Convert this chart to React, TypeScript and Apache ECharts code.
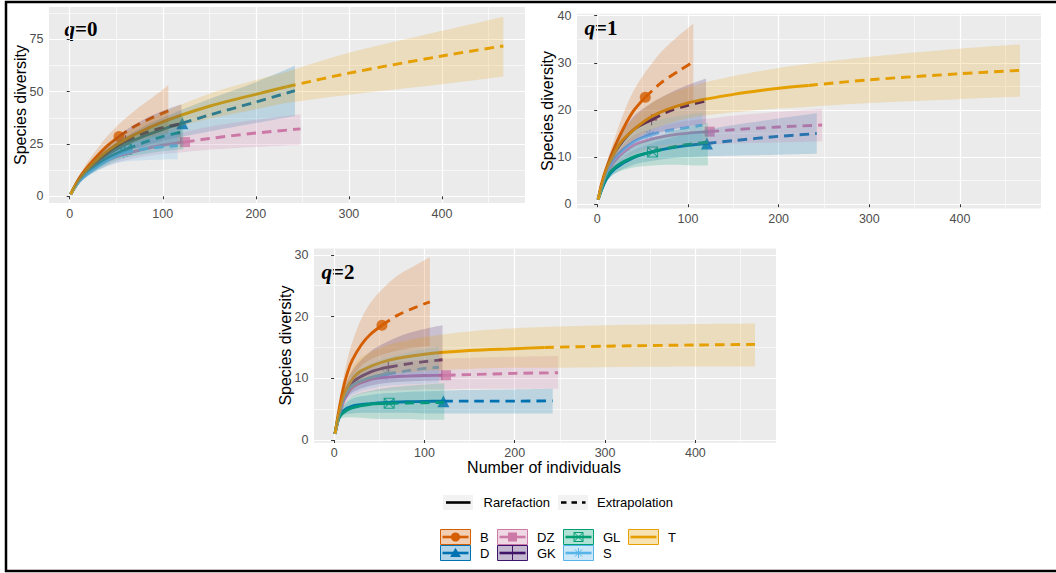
import React, { useEffect, useRef } from "react";
import * as echarts from "echarts";

// ---------------- data ----------------
const GROUPS = ["B", "D", "DZ", "GK", "GL", "S", "T"];
const SAMPLE_SIZES = [53, 121, 124, 60, 61, 58, 233];
const X_TICKS = [0, 100, 200, 300, 400];
const X_MINOR = [50, 150, 250, 350, 450];
const Y_TICKS_Q0 = [0, 25, 50, 75];
const Y_MINOR_Q0 = [12.5, 37.5, 62.5, 87.5];
const Y_TICKS_Q1 = [0, 10, 20, 30, 40];
const Y_MINOR_Q1 = [5, 15, 25, 35];
const Y_TICKS_Q2 = [0, 10, 20, 30];
const Y_MINOR_Q2 = [5, 15, 25];
const LINE_TYPES = ["Rarefaction", "Extrapolation"];

// rows: [number of individuals, estimate, lower CI, upper CI]
const B_q0 = [[1, 1, 1, 1], [10, 8.5, 7.2, 9.8], [20, 14.5, 12, 17], [30, 19.5, 15.8, 23], [40, 24, 19, 28.5], [53, 28.5, 22.5, 34.5], [70, 33.5, 25.5, 41], [90, 37.8, 28, 47.5], [106, 40.8, 29.5, 53]];
const D_q0 = [[1, 1, 1, 1], [10, 7.5, 6.6, 8.4], [20, 12.5, 11, 14], [40, 19.8, 17, 22.5], [60, 24.8, 21, 28.5], [80, 28.8, 24, 33.5], [100, 32, 26.5, 37.5], [121, 34.9, 28.5, 41.5], [150, 38.8, 31, 46.5], [200, 45, 35, 54.5], [242, 50.5, 38.4, 62.3]];
const DZ_q0 = [[1, 1, 1, 1], [10, 7, 6.2, 7.8], [20, 11.5, 10, 13], [40, 17, 14.5, 19.5], [60, 20.2, 17.2, 23.2], [80, 22.6, 19, 26.2], [100, 24.4, 20.2, 28.6], [124, 25.9, 21.2, 30.8], [150, 27.6, 22.2, 33.2], [200, 30.2, 23.5, 36.5], [248, 32.2, 24.5, 39.2]];
const GK_q0 = [[1, 1, 1, 1], [10, 8, 7, 9], [20, 13.2, 11.5, 15], [40, 20.8, 17.5, 24], [60, 26.5, 21.5, 31.5], [80, 30.2, 23.5, 36.8], [100, 32.8, 25, 40.8], [120, 34.6, 26, 44]];
const GL_q0 = [[1, 1, 1, 1], [10, 7.2, 6.3, 8.1], [20, 11.7, 10, 13.5], [40, 18, 15, 21.2], [61, 22.5, 18.5, 26.8], [80, 25.7, 20.2, 31], [100, 28.5, 21.5, 35], [122, 30.8, 22.5, 38.5]];
const S_q0 = [[1, 1, 1, 1], [10, 7, 6.2, 7.8], [20, 11, 9.6, 12.6], [40, 17, 14.2, 20], [58, 20.8, 16.5, 25], [80, 22.6, 17.2, 28], [100, 23.6, 17.6, 29.8], [116, 24.2, 17.7, 30.8]];
const T_q0 = [[1, 1, 1, 1], [10, 8, 7.2, 8.8], [20, 13.5, 12, 15], [40, 21.5, 19.2, 24], [60, 27.2, 24, 30.5], [100, 35.5, 31, 40], [150, 43, 37, 49], [200, 48.7, 41.5, 55.5], [233, 52.3, 44.5, 59.5], [300, 58.8, 48.5, 68.5], [400, 67, 53.5, 79], [466, 71.8, 57.2, 85.8]];

const B_q1 = [[1, 1, 1, 1], [5, 4.5, 4, 5], [10, 7.6, 6.6, 8.6], [20, 12.5, 10.6, 14.5], [30, 16.5, 13.5, 19.8], [40, 19.8, 15.6, 24], [53, 22.7, 17.5, 28], [70, 25.7, 19.2, 32.2], [90, 28.3, 20.6, 35.8], [106, 30.2, 21.6, 38.3]];
const D_q1 = [[1, 1, 1, 1], [10, 5.3, 4.7, 5.9], [20, 7.6, 6.6, 8.6], [40, 9.9, 8.4, 11.4], [60, 11.1, 9.2, 12.9], [80, 11.9, 9.7, 14], [100, 12.5, 10, 15], [121, 12.9, 10.2, 15.8], [150, 13.5, 10.3, 16.8], [200, 14.4, 10.5, 18.2], [242, 15, 10.7, 19.3]];
const DZ_q1 = [[1, 1, 1, 1], [10, 6.1, 5.4, 6.8], [20, 9.3, 8.1, 10.6], [40, 12.5, 10.6, 14.5], [60, 13.8, 11.6, 16], [80, 14.6, 12.1, 17], [100, 15.1, 12.5, 17.7], [124, 15.4, 12.7, 18.2], [150, 15.8, 12.9, 18.8], [200, 16.4, 13.1, 19.6], [248, 16.8, 13.3, 20.2]];
const GK_q1 = [[1, 1, 1, 1], [10, 7.2, 6.3, 8.1], [20, 11.2, 9.7, 12.8], [40, 15.8, 13.3, 18.6], [60, 17.9, 14.8, 21.5], [80, 19.8, 15.8, 23.6], [100, 21, 16.5, 25.3], [120, 21.9, 17, 26.7]];
const GL_q1 = [[1, 1, 1, 1], [10, 5.6, 4.9, 6.3], [20, 7.9, 6.6, 9.3], [40, 10, 7.8, 12.3], [61, 11.1, 8.2, 14], [80, 12, 8.4, 15.3], [100, 12.7, 8.3, 16.4], [122, 13.2, 8.2, 17.2]];
const S_q1 = [[1, 1, 1, 1], [10, 6.6, 5.9, 7.3], [20, 10, 8.7, 11.4], [40, 13.2, 11.2, 15.4], [58, 14.7, 12.2, 17.3], [80, 15.7, 12.8, 18.4], [100, 16.3, 13.1, 19], [116, 16.8, 13.3, 19.4]];
const T_q1 = [[1, 1, 1, 1], [10, 7.3, 6.6, 8], [20, 11.3, 10, 12.7], [30, 14, 12.2, 16], [60, 18.6, 15.8, 21.5], [100, 21.5, 18.2, 24.8], [150, 23.3, 19.5, 27.2], [200, 24.6, 20.3, 28.9], [233, 25.2, 20.7, 29.8], [300, 26.4, 21.5, 31.3], [400, 27.7, 22.3, 33], [466, 28.4, 22.8, 33.9]];

const B_q2 = [[1, 1, 1, 1], [5, 4.6, 4, 5.2], [10, 8.3, 7, 9.8], [15, 11, 9, 13.2], [20, 12.9, 10.3, 15.8], [30, 15.4, 12, 19.6], [40, 17.1, 13, 22.2], [53, 18.6, 13.8, 24.4], [70, 20.2, 14.5, 26.6], [90, 21.5, 15, 28.3], [106, 22.4, 15.2, 29.6]];
const D_q2 = [[1, 1, 1, 1], [5, 3.4, 3, 3.8], [10, 4.7, 4, 5.4], [20, 5.5, 4.3, 6.7], [40, 5.9, 4.4, 7.3], [60, 6.1, 4.4, 7.6], [80, 6.2, 4.4, 7.8], [100, 6.25, 4.3, 7.9], [121, 6.3, 4.3, 8], [150, 6.3, 4.3, 8.1], [200, 6.3, 4.3, 8.2], [242, 6.35, 4.3, 8.3]];
const DZ_q2 = [[1, 1, 1, 1], [10, 6, 5.2, 6.8], [20, 8.5, 7, 10.1], [40, 9.8, 7.8, 11.8], [60, 10.2, 8, 12.4], [80, 10.35, 8.1, 12.8], [100, 10.45, 8.2, 13], [124, 10.5, 8.2, 13.2], [150, 10.6, 8.3, 13.3], [200, 10.8, 8.3, 13.5], [248, 10.9, 8.3, 13.6]];
const GK_q2 = [[1, 1, 1, 1], [10, 6.8, 5.9, 7.7], [20, 9.3, 7.7, 11.2], [40, 11, 8.8, 14.3], [60, 11.8, 9.3, 16], [80, 12.3, 9.5, 17.2], [100, 12.7, 9.6, 18], [120, 13, 9.7, 18.6]];
const GL_q2 = [[1, 1, 1, 1], [5, 3.5, 3, 4], [10, 4.4, 3.6, 5.5], [20, 5.2, 3.7, 7.1], [40, 5.8, 3.5, 8], [61, 5.95, 3.4, 8.5], [80, 6, 3.4, 8.8], [100, 6.05, 3.3, 9], [122, 6.1, 3.3, 9.2]];
const S_q2 = [[1, 1, 1, 1], [10, 6.5, 5.7, 7.3], [20, 8.8, 7.3, 10.5], [40, 10.1, 8.3, 12.3], [58, 10.7, 8.8, 13.3], [80, 11.2, 9, 14.1], [100, 11.6, 9.1, 14.7], [116, 11.8, 9.2, 15.1]];
const T_q2 = [[1, 1, 1, 1], [10, 7, 6.2, 7.8], [20, 9.8, 8.2, 11.6], [30, 11.2, 9.2, 13.4], [60, 12.9, 10.6, 15.4], [100, 13.9, 11.2, 16.7], [150, 14.5, 11.5, 17.6], [200, 14.8, 11.7, 18.1], [233, 15, 11.7, 18.3], [300, 15.2, 11.8, 18.6], [400, 15.4, 11.9, 18.8], [466, 15.5, 11.9, 18.9]];

const Q0 = [B_q0, D_q0, DZ_q0, GK_q0, GL_q0, S_q0, T_q0];
const Q1 = [B_q1, D_q1, DZ_q1, GK_q1, GL_q1, S_q1, T_q1];
const Q2 = [B_q2, D_q2, DZ_q2, GK_q2, GL_q2, S_q2, T_q2];

// ---------------- styles / layout ----------------
const COLORS = ["#D55E00", "#0072B2", "#CC79A7", "#3F1468", "#009E73", "#56B4E9", "#E69F00"];
const PLUS = "path://M5,0L5,10M0,5L10,5";
const SQCROSS = "path://M0,0L10,0L10,10L0,10ZM0,0L10,10M10,0L0,10";
const ASTER = "path://M5,0L5,10M0,5L10,5M1.5,1.5L8.5,8.5M8.5,1.5L1.5,8.5";
const SYMBOLS = ["circle", "triangle", "rect", PLUS, SQCROSS, ASTER, "none"];
const SYMBOL_SIZES = [11, 12, 10, 11, 10, 11, 0];
const FILLED = [true, true, true, false, false, false, true];
const SANS = "'Liberation Sans', Arial, Helvetica, sans-serif";
const SERIF = "'Liberation Serif', 'Times New Roman', serif";
const X_RANGE = [-22.25, 489.25];
const SMOOTH = 0.3;

const PANELS = [
  { q: "0", data: Q0, grid: { left: 49, top: 7, width: 476, height: 196 }, y: [-3.2, 90.4], yTicks: Y_TICKS_Q0, yMinor: Y_MINOR_Q0, label: [64.5, 29], title: [20.5, 105] },
  { q: "1", data: Q1, grid: { left: 577, top: 13.8, width: 464, height: 194.7 }, y: [-0.9, 40.4], yTicks: Y_TICKS_Q1, yMinor: Y_MINOR_Q1, label: [584.5, 27.5], title: [547, 111] },
  { q: "2", data: Q2, grid: { left: 314, top: 248.4, width: 462, height: 194.4 }, y: [-0.45, 31.05], yTicks: Y_TICKS_Q2, yMinor: Y_MINOR_Q2, label: [321.5, 272], title: [285.5, 345.6] },
];

function markerEls(gi: number, cx: number, cy: number, col: string): any[] {
  const st = { stroke: col, lineWidth: 1 };
  switch (gi) {
    case 0:
      return [{ type: "circle", shape: { cx, cy, r: 4.6 }, style: { fill: col } }];
    case 1:
      return [{ type: "polygon", shape: { points: [[cx, cy - 5.2], [cx + 5.4, cy + 4], [cx - 5.4, cy + 4]] }, style: { fill: col } }];
    case 2:
      return [{ type: "rect", shape: { x: cx - 4.5, y: cy - 4.5, width: 9, height: 9 }, style: { fill: col } }];
    case 3:
      return [{ type: "line", shape: { x1: cx, y1: cy - 7.5, x2: cx, y2: cy + 7.5 }, style: st }];
    case 4:
      return [
        { type: "rect", shape: { x: cx - 4.5, y: cy - 4.5, width: 9, height: 9 }, style: { fill: "none", ...st } },
        { type: "line", shape: { x1: cx - 4.5, y1: cy - 4.5, x2: cx + 4.5, y2: cy + 4.5 }, style: st },
        { type: "line", shape: { x1: cx + 4.5, y1: cy - 4.5, x2: cx - 4.5, y2: cy + 4.5 }, style: st },
      ];
    case 5:
      return [
        { type: "line", shape: { x1: cx, y1: cy - 5, x2: cx, y2: cy + 5 }, style: st },
        { type: "line", shape: { x1: cx - 3.6, y1: cy - 3.6, x2: cx + 3.6, y2: cy + 3.6 }, style: st },
        { type: "line", shape: { x1: cx + 3.6, y1: cy - 3.6, x2: cx - 3.6, y2: cy + 3.6 }, style: st },
      ];
    default:
      return [];
  }
}

function buildOption() {
  const grids: any[] = [];
  const xAxes: any[] = [];
  const yAxes: any[] = [];
  const series: any[] = [];
  const graphic: any[] = [];

  PANELS.forEach((p, pi) => {
    grids.push({ ...p.grid, show: true, backgroundColor: "#EBEBEB", borderWidth: 0, containLabel: false });
    const labelStyle = { color: "#4D4D4D", fontSize: 12.5, fontFamily: SANS };
    xAxes.push({
      type: "value", gridIndex: pi, min: X_RANGE[0], max: X_RANGE[1],
      axisLine: { show: false },
      axisTick: { show: true, length: 3, customValues: X_TICKS, lineStyle: { color: "#333333", width: 1 } },
      axisLabel: { ...labelStyle, margin: 4, customValues: X_TICKS },
      splitLine: { show: true, lineStyle: { color: "#FFFFFF", width: 1.2 } },
    });
    xAxes.push({
      type: "value", gridIndex: pi, min: X_RANGE[0], max: X_RANGE[1], position: "bottom",
      axisLine: { show: false },
      axisTick: { show: false, customValues: X_MINOR },
      axisLabel: { show: false, customValues: X_MINOR },
      splitLine: { show: true, lineStyle: { color: "#FFFFFF", width: 0.6 } },
    });
    yAxes.push({
      type: "value", gridIndex: pi, min: p.y[0], max: p.y[1],
      axisLine: { show: false },
      axisTick: { show: true, length: 3, customValues: p.yTicks, lineStyle: { color: "#333333", width: 1 } },
      axisLabel: { ...labelStyle, margin: 5.5, customValues: p.yTicks },
      splitLine: { show: true, lineStyle: { color: "#FFFFFF", width: 1.2 } },
    });
    yAxes.push({
      type: "value", gridIndex: pi, min: p.y[0], max: p.y[1], position: "left",
      axisLine: { show: false },
      axisTick: { show: false, customValues: p.yMinor },
      axisLabel: { show: false, customValues: p.yMinor },
      splitLine: { show: true, lineStyle: { color: "#FFFFFF", width: 0.6 } },
    });

    const xi = pi * 2;
    p.data.forEach((rows, gi) => {
      const col = COLORS[gi];
      const n = SAMPLE_SIZES[gi];
      const rare = rows.filter((r) => r[0] <= n).map((r) => [r[0], r[1]]);
      const ext = rows.filter((r) => r[0] >= n).map((r) => [r[0], r[1]]);
      const obs = rows.find((r) => r[0] === n);
      const common = { xAxisIndex: xi, yAxisIndex: xi, silent: true, animation: false, symbol: "none", showSymbol: false };
      if (obs && SYMBOLS[gi] !== "none") {
        series.push({
          ...common, type: "scatter", symbol: SYMBOLS[gi], symbolSize: SYMBOL_SIZES[gi], z: 2,
          data: [[obs[0], obs[1]]],
          itemStyle: FILLED[gi] ? { color: col } : { color: "rgba(0,0,0,0)", borderColor: col, borderWidth: 1.1 },
        });
      }
      series.push({ ...common, type: "line", data: rare, smooth: SMOOTH, z: 3, lineStyle: { color: col, width: 2.9 } });
      series.push({ ...common, type: "line", data: ext, smooth: SMOOTH, z: 3, lineStyle: { color: col, width: 2.9, type: [9.5, 6] } });
      // confidence band: lower bound + (upper - lower), stacked on the y dimension (first column)
      const stack = `band_${pi}_${gi}`;
      series.push({
        ...common, type: "line", stack, encode: { x: 1, y: 0 },
        data: rows.map((r) => [r[2], r[0]]), smooth: SMOOTH, z: 4, lineStyle: { width: 0, opacity: 0 },
      });
      series.push({
        ...common, type: "line", stack, encode: { x: 1, y: 0 },
        data: rows.map((r) => [r[3] - r[2], r[0]]), smooth: SMOOTH, z: 4, lineStyle: { width: 0, opacity: 0 },
        areaStyle: { color: col, opacity: 0.2 },
      });
    });

    graphic.push({
      type: "text", x: p.label[0], y: p.label[1],
      style: {
        text: `{a|q}{b|=${p.q}}`, verticalAlign: "middle", align: "left",
        rich: {
          a: { fontFamily: SERIF, fontSize: 21, fontWeight: "bold", fontStyle: "italic", fill: "#000" },
          b: { fontFamily: SERIF, fontSize: 21, fontWeight: "bold", fill: "#000" },
        },
      },
    });
    graphic.push({
      type: "text", x: p.title[0], y: p.title[1], rotation: Math.PI / 2,
      style: { text: "Species diversity", fontFamily: SANS, fontSize: 16, fill: "#000", align: "center", verticalAlign: "middle" },
    });
  });

  graphic.push({
    type: "text", x: 544, y: 467,
    style: { text: "Number of individuals", fontFamily: SANS, fontSize: 16, fill: "#000", align: "center", verticalAlign: "middle" },
  });

  // line type legend
  const ltKeys = [443, 558];
  const ltText = [483.5, 597];
  LINE_TYPES.forEach((lab, i) => {
    graphic.push({ type: "rect", shape: { x: ltKeys[i], y: 495, width: 30, height: 15 }, style: { fill: "#F2F2F2" } });
    graphic.push({
      type: "line", shape: { x1: ltKeys[i] + 3, y1: 502.5, x2: ltKeys[i] + 27.5, y2: 502.5 },
      style: { stroke: "#000", lineWidth: 2.6, lineDash: i === 1 ? [5.5, 5] : null },
    });
    graphic.push({ type: "text", x: ltText[i], y: 502.5, style: { text: lab, fontFamily: SANS, fontSize: 13, fill: "#000", verticalAlign: "middle", align: "left" } });
  });

  // group legend
  const colX = [440, 497, 563, 628];
  const rowY = [529, 545];
  GROUPS.forEach((g, gi) => {
    const c = Math.floor(gi / 2);
    const r = gi % 2;
    const x = colX[c];
    const y = rowY[r];
    const col = COLORS[gi];
    graphic.push({ type: "rect", shape: { x: x + 0.5, y: y + 0.5, width: 30, height: 15 }, style: { fill: col, opacity: 0.3 } });
    graphic.push({ type: "rect", shape: { x: x + 0.5, y: y + 0.5, width: 30, height: 15 }, style: { fill: "none", stroke: col, lineWidth: 1 } });
    graphic.push({ type: "line", shape: { x1: x + 2.5, y1: y + 8, x2: x + 28.5, y2: y + 8 }, style: { stroke: col, lineWidth: 2.6 } });
    markerEls(gi, x + 15.5, y + 8, col).forEach((e) => graphic.push(e));
    graphic.push({ type: "text", x: x + 40, y: y + 8.5, style: { text: g, fontFamily: SANS, fontSize: 13, fill: "#000", verticalAlign: "middle", align: "left" } });
  });

  // outer frame (right side lies outside the picture)
  graphic.push({ type: "rect", shape: { x: 6, y: 2, width: 1120, height: 569 }, style: { fill: "none", stroke: "#000", lineWidth: 2.5 }, z: 100 });

  return {
    animation: false,
    backgroundColor: "#FFFFFF",
    grid: grids,
    xAxis: xAxes,
    yAxis: yAxes,
    series,
    graphic,
  };
}

export default function App() {
  const ref = useRef<HTMLDivElement>(null);
  useEffect(() => {
    if (!ref.current) return;
    const chart = echarts.init(ref.current, undefined, { renderer: "svg" });
    chart.setOption(buildOption() as any);
    return () => chart.dispose();
  }, []);
  return <div ref={ref} style={{ position: "fixed", left: 0, top: 0, width: 1056, height: 573, background: "#fff" }} />;
}
